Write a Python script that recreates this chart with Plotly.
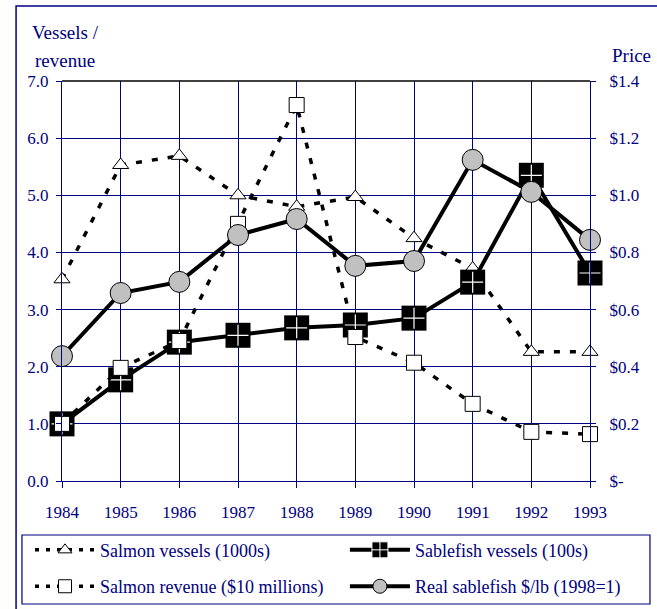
import plotly.graph_objects as go

years = [1984, 1985, 1986, 1987, 1988, 1989, 1990, 1991, 1992, 1993]
salmon_vessels = [3.53, 5.53, 5.69, 5.0, 4.8, 4.97, 4.25, 3.72, 2.26, 2.26]
salmon_revenue = [1.0, 1.98, 2.45, 4.5, 6.58, 2.52, 2.07, 1.35, 0.86, 0.82]
sablefish_vessels = [1.0, 1.77, 2.43, 2.55, 2.68, 2.73, 2.85, 3.48, 5.35, 3.64]
sablefish_price = [0.437, 0.658, 0.697, 0.861, 0.917, 0.753, 0.77, 1.124, 1.012, 0.844]

left_ticks = [0, 1, 2, 3, 4, 5, 6, 7]
right_ticks = [0, 0.2, 0.4, 0.6, 0.8, 1.0, 1.2, 1.4]
right_labels = ["$-", "$0.2", "$0.4", "$0.6", "$0.8", "$1.0", "$1.2", "$1.4"]

NAVY = "#000080"
FONT = "Liberation Serif"
DASH = "6px,10px"

tri = dict(symbol="triangle-up", size=14, color="white", line=dict(color="black", width=1))
sq = dict(symbol="square", size=15, color="white", line=dict(color="black", width=1))
blk = dict(symbol="square", size=25, color="black", line=dict(color="black", width=0))
circ = dict(symbol="circle", size=21, color="#c0c0c0", line=dict(color="black", width=1))
dotted = dict(color="black", width=3.5, dash=DASH)
solid = dict(color="black", width=4)

fig = go.Figure()

# plotted series (drawing order: triangles, black squares, white squares, circles)
fig.add_trace(go.Scatter(x=years, y=salmon_vessels, mode="lines+markers", line=dotted,
                         marker=tri, showlegend=False, cliponaxis=False))
fig.add_trace(go.Scatter(x=years, y=sablefish_vessels, mode="lines+markers", line=solid,
                         marker=blk, showlegend=False, cliponaxis=False))
fig.add_trace(go.Scatter(x=years, y=sablefish_vessels, mode="markers",
                         marker=dict(symbol="cross-thin", size=15, color="white",
                                     line=dict(color="white", width=1.2)),
                         showlegend=False, cliponaxis=False))
fig.add_trace(go.Scatter(x=years, y=salmon_revenue, mode="lines+markers", line=dotted,
                         marker=sq, showlegend=False, cliponaxis=False))
fig.add_trace(go.Scatter(x=years, y=sablefish_price, yaxis="y2", mode="lines+markers", line=solid,
                         marker=circ, showlegend=False, cliponaxis=False))

# legend entries
fig.add_trace(go.Scatter(x=[None], y=[None], name="Salmon vessels (1000s)", mode="lines+markers",
                         line=dict(color="black", width=3.5, dash="4px,7px"),
                         marker=dict(tri, size=12), legend="legend", legendgroup="a"))
fig.add_trace(go.Scatter(x=[None], y=[None], name="Salmon revenue ($10 millions)", mode="lines+markers",
                         line=dict(color="black", width=3.5, dash="4px,7px"),
                         marker=dict(sq, size=13), legend="legend", legendgroup="b"))
fig.add_trace(go.Scatter(x=[None], y=[None], name="Sablefish vessels (100s)", mode="lines+markers",
                         line=solid,
                         marker=dict(symbol="square-cross", size=16, color="black",
                                     line=dict(color="white", width=1)),
                         legend="legend2", legendgroup="c"))
fig.add_trace(go.Scatter(x=[None], y=[None], name="Real sablefish $/lb (1998=1)", mode="lines+markers",
                         line=solid, marker=dict(circ, size=14), legend="legend2", legendgroup="d"))

legend_common = dict(
    orientation="v", yanchor="top", xanchor="left",
    xref="container", yref="container",
    bgcolor="rgba(0,0,0,0)", borderwidth=0,
    font=dict(family=FONT, size=18, color=NAVY),
    itemwidth=60, tracegroupgap=10, traceorder="grouped",
)

fig.update_layout(
    width=657, height=609,
    margin=dict(l=62, r=67, t=81, b=128, autoexpand=False),
    paper_bgcolor="white", plot_bgcolor="white",
    font=dict(family=FONT, size=17, color=NAVY),
    showlegend=True,
    legend=dict(legend_common, x=0.0457, y=0.127),
    legend2=dict(legend_common, x=0.525, y=0.127),
    xaxis=dict(
        range=[1984, 1993], tickvals=years, ticktext=[str(y) for y in years],
        showgrid=True, gridcolor=NAVY, gridwidth=1,
        showline=True, linecolor=NAVY, linewidth=1,
        ticks="outside", ticklen=6, tickcolor=NAVY,
        ticklabelstandoff=10, zeroline=False,
    ),
    yaxis=dict(
        range=[0, 7], tickvals=left_ticks, tickformat=".1f",
        showgrid=True, gridcolor=NAVY, gridwidth=1,
        showline=True, linecolor=NAVY, linewidth=1,
        ticks="outside", ticklen=5, tickcolor=NAVY, zeroline=False,
        ticklabelstandoff=4,
    ),
    yaxis2=dict(
        range=[0, 1.4], tickvals=right_ticks, ticktext=right_labels,
        overlaying="y", side="right", showgrid=False,
        showline=True, linecolor=NAVY, linewidth=1,
        ticks="outside", ticklen=5, tickcolor=NAVY, zeroline=False,
        ticklabelstandoff=10,
    ),
    shapes=[
        dict(type="line", xref="paper", yref="paper", x0=0, x1=1, y0=1, y1=1,
             line=dict(color="black", width=1.5)),
        dict(type="rect", xref="paper", yref="paper", x0=-0.087, x1=1.2, y0=-0.4, y1=1.1875,
             line=dict(color=NAVY, width=1.5), layer="below"),
        dict(type="rect", xref="paper", yref="paper", x0=-0.0758, x1=1.1136, y0=-0.3075, y1=-0.135,
             line=dict(color=NAVY, width=1.2), layer="below"),
    ],
    annotations=[
        dict(text="Vessels /", xref="paper", yref="paper", x=-0.0606, y=1.12,
             xanchor="left", yanchor="middle", showarrow=False,
             font=dict(family=FONT, size=19, color=NAVY)),
        dict(text="revenue", xref="paper", yref="paper", x=-0.0549, y=1.0525,
             xanchor="left", yanchor="middle", showarrow=False,
             font=dict(family=FONT, size=19, color=NAVY)),
        dict(text="Price", xref="paper", yref="paper", x=1.0379, y=1.065,
             xanchor="left", yanchor="middle", showarrow=False,
             font=dict(family=FONT, size=19, color=NAVY)),
    ],
)

fig.write_html("out.html", config={"displayModeBar": False},
               post_script="document.body.style.margin='0';")
